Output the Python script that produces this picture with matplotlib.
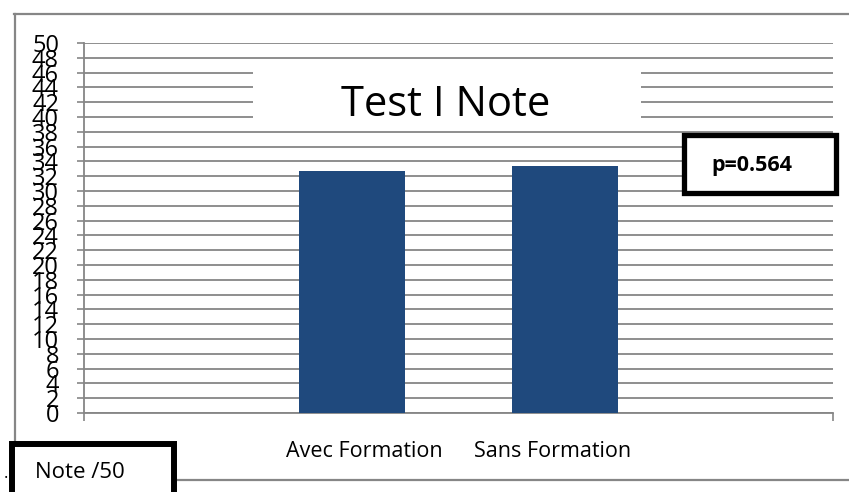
import matplotlib.pyplot as plt
from matplotlib.patches import Rectangle
from matplotlib.lines import Line2D
import matplotlib.transforms as mtransforms

categories = ["Avec Formation", "Sans Formation"]
scores = [32.7, 33.4]
y_ticks = list(range(0, 51, 2))
title = "Test I Note"
p_label = "p=0.564"
unit_label = "Note /50"

W, H = 849, 492
GRID = '#868686'
BAR = '#1F497D'
plt.rcParams['font.family'] = ['Open Sans', 'DejaVu Sans']


def fx(px):
    return px / W


def fy(py):
    # pixel measured from the top of the image
    return 1 - py / H


fig = plt.figure(figsize=(W / 100, H / 100), dpi=100)

# outer chart frame (top, left, bottom)
fig.add_artist(Line2D([fx(14), 1], [fy(14), fy(14)], color=GRID, lw=1.6))
fig.add_artist(Line2D([fx(15), fx(15)], [fy(14), 0], color=GRID, lw=1.6))
fig.add_artist(Line2D([fx(177), 1], [fy(480), fy(480)], color=GRID, lw=1.6))

ax = fig.add_axes([fx(84), fy(413), fx(833) - fx(84), fy(43) - fy(413)])
x = list(range(len(categories)))
ax.bar(x, scores, width=0.5, color=BAR, zorder=3)
ax.set_xlim(-1.26, len(categories) - 1 + 1.26)
ax.set_ylim(0, 50)

ax.set_yticks(y_ticks)
ax.set_yticklabels([str(v) for v in y_ticks], fontsize=17)
ax.yaxis.grid(True, color=GRID, lw=1.3, zorder=0)
ax.tick_params(axis='y', length=5, width=1.2, color=GRID, pad=13, direction='out')

ax.set_xticks(x)
ax.set_xticklabels(categories, fontsize=15.5)
ax.set_xticks(list(ax.get_xlim()), minor=True)
ax.tick_params(axis='x', which='major', length=0, pad=20)
ax.tick_params(axis='x', which='minor', length=6, width=1.2, color=GRID, direction='out')
shifts = [12.5, -12.5]
for lab, dx in zip(ax.get_xticklabels(), shifts):
    lab.set_transform(lab.get_transform() + mtransforms.ScaledTranslation(dx / 100, 0, fig.dpi_scale_trans))

for side in ['top', 'right']:
    ax.spines[side].set_visible(False)
for side in ['left', 'bottom']:
    ax.spines[side].set_color(GRID)
    ax.spines[side].set_linewidth(1.3)
ax.set_axisbelow(True)

# white title box hiding gridlines
fig.add_artist(Rectangle((fx(253), fy(125)), fx(641) - fx(253), fy(66) - fy(125),
                         facecolor='white', edgecolor='none', zorder=4))
fig.text(fx(446), fy(116), title, ha='center', va='baseline', fontsize=30, zorder=5)

# p-value box
fig.add_artist(Rectangle((fx(684), fy(193)), fx(836) - fx(684), fy(135) - fy(193),
                         facecolor='white', edgecolor='black', lw=3.8, zorder=4))
fig.text(fx(752), fy(166), p_label, ha='center', va='center', fontsize=15.5,
         fontweight='bold', zorder=5)

# y-unit box
fig.add_artist(Rectangle((fx(12), fy(500)), fx(174) - fx(12), fy(444) - fy(500),
                         facecolor='white', edgecolor='black', lw=4.3, zorder=4))
fig.text(fx(35), fy(472), unit_label, ha='left', va='center', fontsize=16, zorder=5)
fig.text(fx(4), fy(474), ".", ha='left', va='center', fontsize=12, zorder=5)

fig.savefig('out.png', dpi=100)
